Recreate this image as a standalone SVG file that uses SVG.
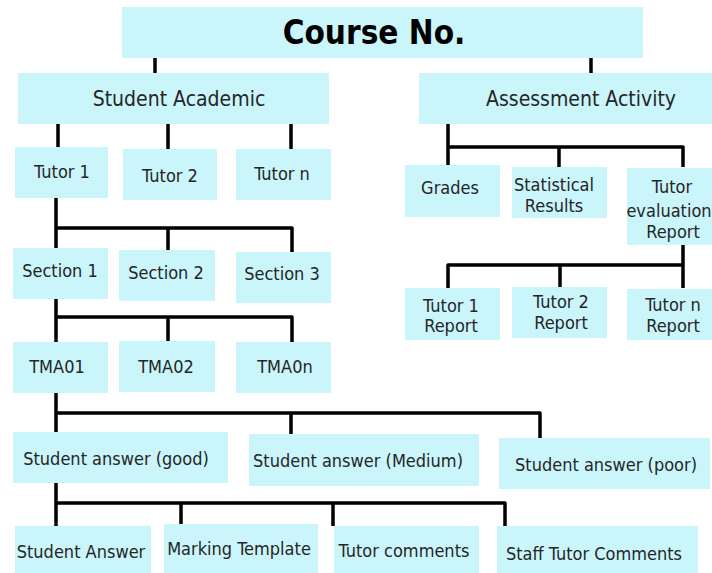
<svg xmlns="http://www.w3.org/2000/svg" width="712" height="573" viewBox="0 0 712 573">
  <style>
    .box { fill: #c9f5fb; }
    .lbl { font-family: "DejaVu Sans Condensed", "DejaVu Sans", sans-serif; font-stretch: condensed; font-size: 18px; fill: #262626; text-anchor: middle; }
    .big { font-size: 21px; }
    .title { font-family: "DejaVu Sans Condensed", "DejaVu Sans", sans-serif; font-stretch: condensed; font-weight: bold; font-size: 33px; fill: #000; text-anchor: middle; }
    .wire { fill: none; stroke: #000; stroke-width: 3.5; stroke-linejoin: round; }
  </style>
  <rect width="712" height="573" fill="#fff"/>

  <!-- connectors -->
  <g id="connectors" class="wire">
    <path d="M155,58 V73"/>
    <path d="M591,58 V73"/>
    <path d="M58,124 V147 M168,124 V149 M291,124 V149"/>
    <path d="M448,124 V166 M448,147 H683 V167 M559,147 V167"/>
    <path d="M683,245 V288 M448,288 V265 H683 M560,265 V287"/>
    <path d="M56,198 V248 M56,228 H292 V252 M168,228 V250"/>
    <path d="M56,299 V342 M56,317 H292 V342 M168,317 V341"/>
    <path d="M56,393 V433 M56,413 H540 V438 M291,413 V434"/>
    <path d="M56,483 V526 M56,503 H505 V526 M181,503 V524 M333,503 V526"/>
  </g>

  <!-- nodes -->
  <g id="course">
    <rect class="box" x="122" y="7" width="521" height="51"/>
    <text class="title" x="374" y="44">Course No.</text>
  </g>
  <g id="student-academic">
    <rect class="box" x="18" y="73" width="311" height="51"/>
    <text class="lbl big" x="179" y="106">Student Academic</text>
  </g>
  <g id="assessment-activity">
    <rect class="box" x="419" y="73" width="293" height="51"/>
    <text class="lbl big" x="581" y="106">Assessment Activity</text>
  </g>

  <g id="tutor-1">
    <rect class="box" x="15" y="147" width="93" height="51"/>
    <text class="lbl" x="62" y="178">Tutor 1</text>
  </g>
  <g id="tutor-2">
    <rect class="box" x="123" y="149" width="94" height="51"/>
    <text class="lbl" x="170" y="182">Tutor 2</text>
  </g>
  <g id="tutor-n">
    <rect class="box" x="236" y="149" width="95" height="51"/>
    <text class="lbl" x="282" y="180">Tutor n</text>
  </g>

  <g id="grades">
    <rect class="box" x="405" y="165" width="95" height="52"/>
    <text class="lbl" x="450" y="194">Grades</text>
  </g>
  <g id="statistical-results">
    <rect class="box" x="512" y="167" width="95" height="51"/>
    <text class="lbl" x="554" y="191">Statistical</text>
    <text class="lbl" x="554" y="212">Results</text>
  </g>
  <g id="tutor-evaluation-report">
    <rect class="box" x="627" y="168" width="85" height="77"/>
    <text class="lbl" x="672" y="193">Tutor</text>
    <text class="lbl" x="669" y="217">evaluation</text>
    <text class="lbl" x="673" y="238">Report</text>
  </g>

  <g id="tutor-1-report">
    <rect class="box" x="405" y="288" width="95" height="52"/>
    <text class="lbl" x="451" y="312">Tutor 1</text>
    <text class="lbl" x="451" y="332">Report</text>
  </g>
  <g id="tutor-2-report">
    <rect class="box" x="512" y="287" width="95" height="51"/>
    <text class="lbl" x="561" y="308">Tutor 2</text>
    <text class="lbl" x="561" y="329">Report</text>
  </g>
  <g id="tutor-n-report">
    <rect class="box" x="627" y="289" width="85" height="51"/>
    <text class="lbl" x="673" y="311">Tutor n</text>
    <text class="lbl" x="673" y="332">Report</text>
  </g>

  <g id="section-1">
    <rect class="box" x="13" y="248" width="95" height="51"/>
    <text class="lbl" x="60" y="277">Section 1</text>
  </g>
  <g id="section-2">
    <rect class="box" x="119" y="250" width="96" height="51"/>
    <text class="lbl" x="166" y="279">Section 2</text>
  </g>
  <g id="section-3">
    <rect class="box" x="236" y="252" width="95" height="51"/>
    <text class="lbl" x="282" y="280">Section 3</text>
  </g>

  <g id="tma01">
    <rect class="box" x="13" y="342" width="95" height="51"/>
    <text class="lbl" x="57" y="373">TMA01</text>
  </g>
  <g id="tma02">
    <rect class="box" x="119" y="341" width="96" height="51"/>
    <text class="lbl" x="166" y="373">TMA02</text>
  </g>
  <g id="tma0n">
    <rect class="box" x="236" y="342" width="95" height="51"/>
    <text class="lbl" x="285" y="373">TMA0n</text>
  </g>

  <g id="answer-good">
    <rect class="box" x="13" y="432" width="215" height="51"/>
    <text class="lbl" x="116" y="465">Student answer (good)</text>
  </g>
  <g id="answer-medium">
    <rect class="box" x="249" y="434" width="230" height="52"/>
    <text class="lbl" x="358" y="467">Student answer (Medium)</text>
  </g>
  <g id="answer-poor">
    <rect class="box" x="499" y="438" width="211" height="51"/>
    <text class="lbl" x="606" y="471">Student answer (poor)</text>
  </g>

  <g id="student-answer">
    <rect class="box" x="15" y="526" width="136" height="47"/>
    <text class="lbl" x="81" y="558">Student Answer</text>
  </g>
  <g id="marking-template">
    <rect class="box" x="164" y="524" width="154" height="49"/>
    <text class="lbl" x="239" y="555">Marking Template</text>
  </g>
  <g id="tutor-comments">
    <rect class="box" x="334" y="526" width="145" height="47"/>
    <text class="lbl" x="404" y="557">Tutor comments</text>
  </g>
  <g id="staff-tutor-comments">
    <rect class="box" x="497" y="526" width="201" height="47"/>
    <text class="lbl" x="594" y="560">Staff Tutor Comments</text>
  </g>
</svg>
